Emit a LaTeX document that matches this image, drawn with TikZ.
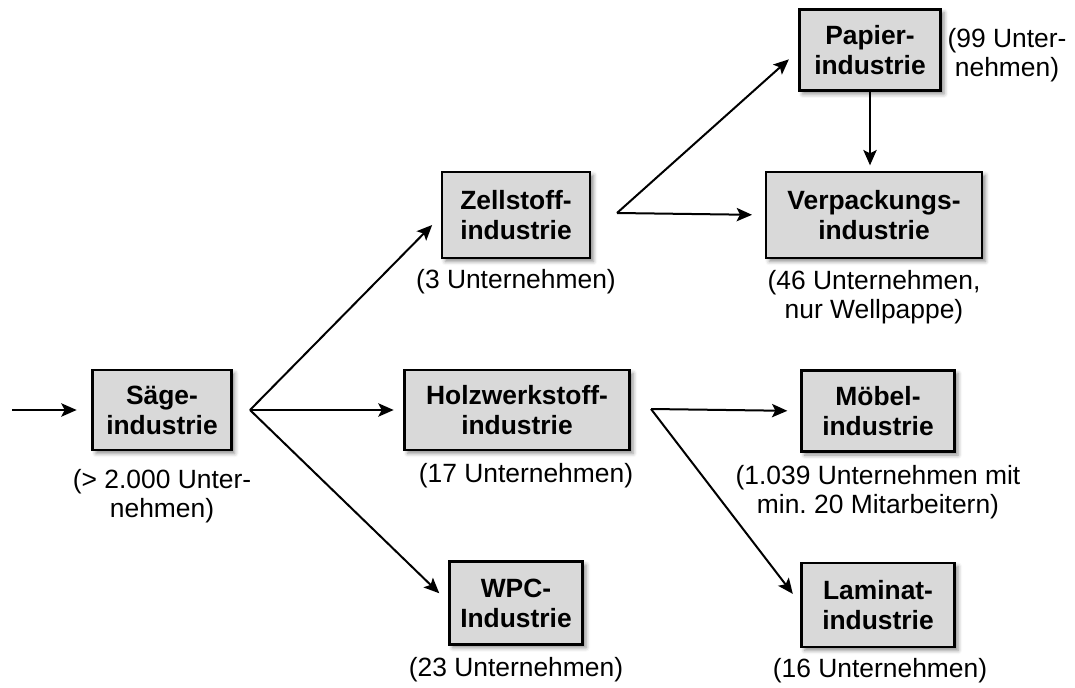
\documentclass[tikz,border=0pt]{standalone}
\usepackage{fontspec}
\setmainfont{Liberation Sans}
\usetikzlibrary{arrows.meta,shadows.blur}
\frenchspacing

\tikzset{
  industry/.style={
    draw=black, line width=2pt, fill=boxgray, inner sep=0pt, outer sep=0pt,
    align=center, font=\bfseries\fontsize{19.8}{22.5}\selectfont,
    blur shadow={shadow xshift=2.5pt, shadow yshift=-2.5pt,
                 shadow blur radius=3pt, shadow opacity=45}},
  count/.style={align=center, inner sep=0pt, font=\fontsize{19.8}{22}\selectfont},
  flow/.style={line width=1.5pt,
    -{Stealth[length=11.5pt, width=10pt, inset=2.5pt]}, shorten >=10.5pt},
}
\definecolor{boxgray}{RGB}{217,217,217}

\begin{document}
\begin{tikzpicture}[x=0.75pt, y=-0.75pt]
  \useasboundingbox (0,0) rectangle (1075,688);

  % industry boxes
  \node[industry, minimum width=104pt, minimum height=60pt] (saege) at (162,410) {Säge-\\industrie};
  \node[industry, minimum width=111pt, minimum height=64.5pt] (zell) at (516,215) {Zellstoff-\\industrie};
  \node[industry, minimum width=169pt, minimum height=60pt] (holz) at (517,410) {Holzwerkstoff-\\industrie};
  \node[industry, minimum width=100pt, minimum height=62pt] (wpc) at (516,603) {WPC-\\Industrie};
  \node[industry, minimum width=106pt, minimum height=61pt] (papier) at (870,50) {Papier-\\industrie};
  \node[industry, minimum width=162pt, minimum height=64.5pt] (verp) at (874,215) {Verpackungs-\\industrie};
  \node[industry, minimum width=115pt, minimum height=61pt] (moebel) at (878,411) {Möbel-\\industrie};
  \node[industry, minimum width=115pt, minimum height=63pt] (laminat) at (878,605) {Laminat-\\industrie};

  % company counts
  \node[count] (csaege) at (162,496) {(> 2.000 Unter-\\nehmen)};
  \node[count] (czell) at (516,282) {(3 Unternehmen)};
  \node[count] (cholz) at (526,476) {(17 Unternehmen)};
  \node[count] (cwpc) at (516,670) {(23 Unternehmen)};
  \node[count] (cpapier) at (1007,55) {(99 Unter-\\nehmen)};
  \node[count] (cverp) at (874,297) {(46 Unternehmen,\\nur Wellpappe)};
  \node[count] (cmoebel) at (878,492) {(1.039 Unternehmen mit\\min. 20 Mitarbeitern)};
  \node[count] (claminat) at (880,671) {(16 Unternehmen)};

  % branching points
  \coordinate (in) at (12,410);
  \coordinate (sfork) at (250,410);
  \coordinate (zfork) at (617,213);
  \coordinate (hfork) at (651,409);

  % flows
  \draw[flow, shorten >=12pt] (in) -- (saege.west);
  \draw[flow] (sfork) -- (zell.west);
  \draw[flow, shorten >=8pt] (sfork) -- (holz.west);
  \draw[flow] (sfork) -- (wpc.west);
  \draw[flow] (zfork) -- (papier.west);
  \draw[flow] (zfork) -- (verp.west);
  \draw[flow, shorten >=5pt] (papier.south) -- (verp.north -| papier.south);
  \draw[flow] (hfork) -- (moebel.west);
  \draw[flow] (hfork) -- (laminat.west);
\end{tikzpicture}
\end{document}
